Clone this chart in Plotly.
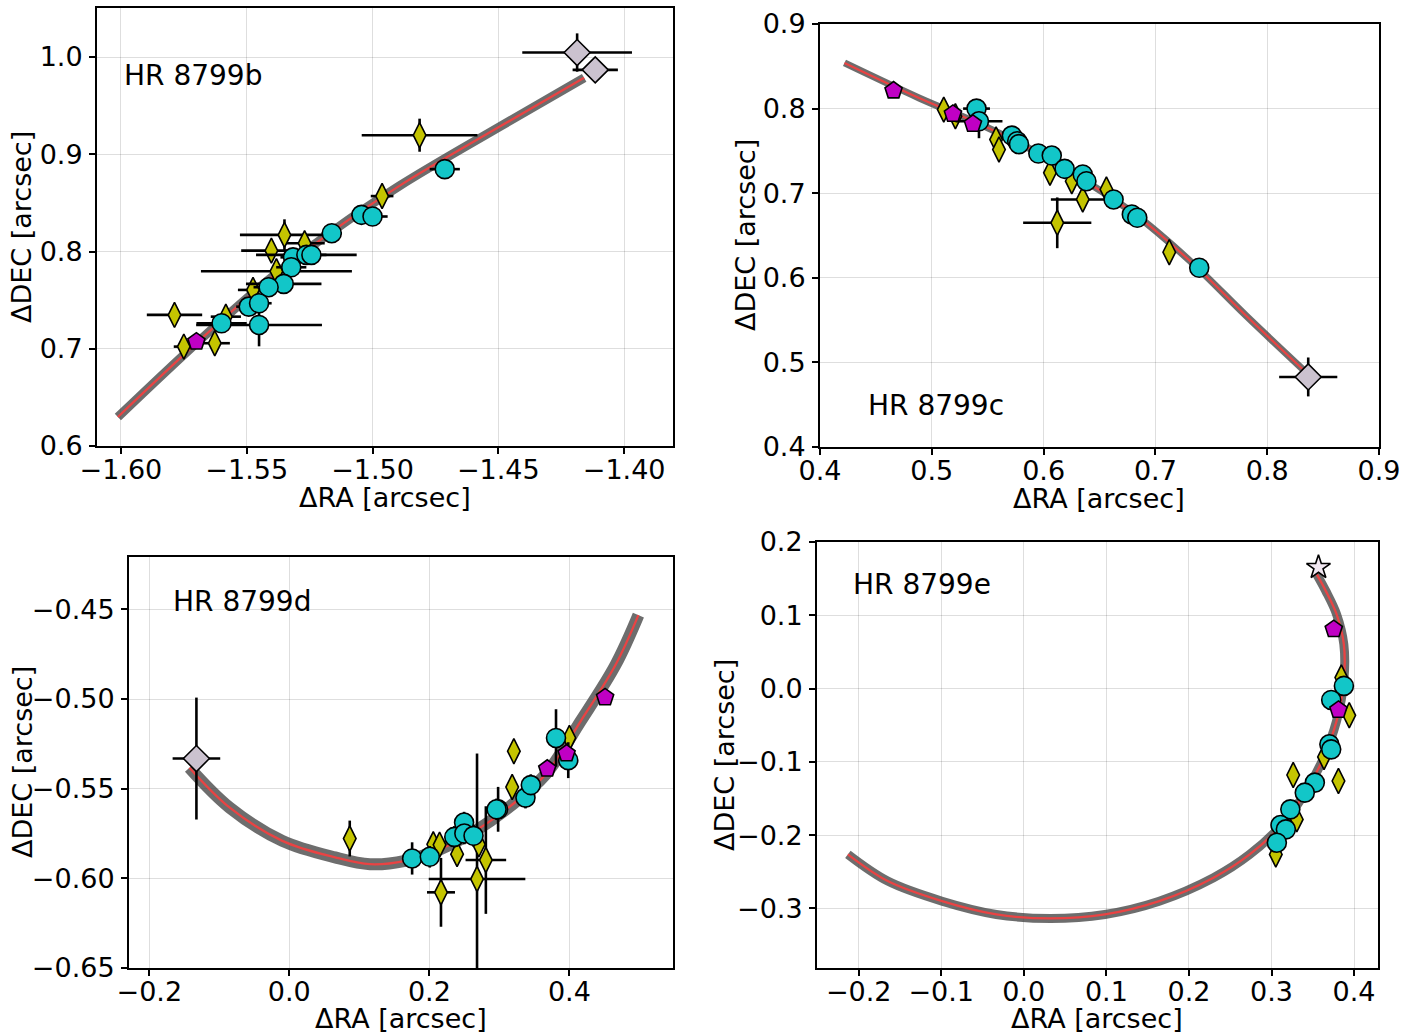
import plotly.graph_objects as go

# ---------------- data ----------------
# HR 8799b
b_track_x = [-1.6012, -1.5690, -1.5409, -1.5163, -1.4893, -1.4496, -1.4159]
b_track_y = [0.6298, 0.7080, 0.7718, 0.8202, 0.8675, 0.9282, 0.9786]
b_yel_x = [-1.4813, -1.4962, -1.5350, -1.5402, -1.5270, -1.5382, -1.5475, -1.5787, -1.5750, -1.5627, -1.5583]
b_yel_y = [0.9196, 0.8570, 0.8171, 0.8009, 0.8085, 0.7797, 0.7605, 0.7348, 0.7022, 0.7057, 0.7330]
b_yel_ex = [0.023, 0.0045, 0.0177, 0.012, 0.008, 0.030, 0.006, 0.011, 0.004, 0.006, 0.006]
b_yel_ey = [0.017, 0.010, 0.016, 0.010, 0.008, 0.008, 0.008, 0.006, 0.006, 0.006, 0.006]
b_cyn_x = [-1.4713, -1.5044, -1.5000, -1.5162, -1.5316, -1.5263, -1.5243, -1.5323, -1.5353, -1.5413, -1.5492, -1.5451, -1.5451, -1.5600]
b_cyn_y = [0.8847, 0.8377, 0.8360, 0.8188, 0.7940, 0.7965, 0.7965, 0.7838, 0.7667, 0.7633, 0.7433, 0.7468, 0.7245, 0.7262]
b_cyn_ex = [0.006, 0.004, 0.006, 0.004, 0.005, 0.020, 0.006, 0.006, 0.015, 0.006, 0.005, 0.005, 0.025, 0.010]
b_cyn_ey = [0.007, 0.006, 0.006, 0.008, 0.006, 0.006, 0.006, 0.006, 0.008, 0.010, 0.006, 0.006, 0.022, 0.006]
b_mag_x = [-1.5700]
b_mag_y = [0.7073]
b_gry_x = [-1.4187, -1.4115]
b_gry_y = [1.0046, 0.9868]
b_gry_ex = [0.0218, 0.009]
b_gry_ey = [0.0197, 0.005]

# HR 8799c
c_track_x = [0.4219, 0.4886, 0.5374, 0.5863, 0.6351, 0.6839, 0.7327, 0.7814, 0.8318]
c_track_y = [0.854, 0.8126, 0.785, 0.7536, 0.7162, 0.6729, 0.6178, 0.5548, 0.4919]
c_yel_x = [0.5107, 0.5211, 0.5575, 0.5601, 0.6057, 0.6252, 0.6350, 0.6562, 0.6122, 0.7124]
c_yel_y = [0.7988, 0.7909, 0.7634, 0.7516, 0.7241, 0.7142, 0.6926, 0.7044, 0.6650, 0.6303]
c_yel_ex = [0.004, 0.004, 0.004, 0.004, 0.004, 0.004, 0.0285, 0.004, 0.0305, 0.004]
c_yel_ey = [0.006, 0.006, 0.006, 0.006, 0.006, 0.006, 0.012, 0.006, 0.030, 0.006]
c_cyn_x = [0.5400, 0.5422, 0.5716, 0.5764, 0.5780, 0.5953, 0.6073, 0.6188, 0.6350, 0.6383, 0.6626, 0.6789, 0.6838, 0.7392]
c_cyn_y = [0.8000, 0.7850, 0.7681, 0.7614, 0.7580, 0.7469, 0.7445, 0.7288, 0.7221, 0.7142, 0.6926, 0.6749, 0.6710, 0.6119]
c_cyn_ex = [0.012, 0.021, 0.004, 0.004, 0.004, 0.003, 0.003, 0.004, 0.004, 0.004, 0.006, 0.003, 0.003, 0.003]
c_cyn_ey = [0.006, 0.020, 0.006, 0.006, 0.006, 0.005, 0.005, 0.005, 0.006, 0.006, 0.006, 0.005, 0.005, 0.006]
c_mag_x = [0.4658, 0.5189, 0.5368]
c_mag_y = [0.8213, 0.7937, 0.7819]
c_gry_x = [0.8367]
c_gry_y = [0.4828]
c_gry_ex = [0.026]
c_gry_ey = [0.023]

# HR 8799d
d_track_x = [-0.1427, -0.0851, -0.0100, 0.0653, 0.1153, 0.1654, 0.2156, 0.2656, 0.3157, 0.3659, 0.4160, 0.4660, 0.4986]
d_track_y = [-0.5383, -0.5606, -0.5791, -0.5883, -0.5921, -0.5902, -0.5837, -0.5735, -0.5597, -0.5421, -0.5124, -0.4809, -0.4532]
d_yel_x = [0.0863, 0.2056, 0.2146, 0.2166, 0.2396, 0.2681, 0.2807, 0.2707, 0.3183, 0.3207, 0.4000]
d_yel_y = [-0.5778, -0.5810, -0.5813, -0.6078, -0.5865, -0.6004, -0.5898, -0.5810, -0.5491, -0.5291, -0.5217]
d_yel_ex = [0.004, 0.004, 0.004, 0.020, 0.004, 0.069, 0.029, 0.004, 0.004, 0.004, 0.004]
d_yel_ey = [0.010, 0.006, 0.006, 0.0192, 0.006, 0.070, 0.030, 0.006, 0.006, 0.006, 0.006]
d_cyn_x = [0.1754, 0.2006, 0.2356, 0.2496, 0.2500, 0.2631, 0.2982, 0.2960, 0.3373, 0.3449, 0.3809, 0.3984]
d_cyn_y = [-0.5889, -0.5880, -0.5769, -0.5689, -0.5750, -0.5763, -0.5615, -0.5615, -0.5550, -0.5480, -0.5217, -0.5341]
d_cyn_ex = [0.004, 0.004, 0.004, 0.004, 0.004, 0.004, 0.004, 0.004, 0.004, 0.004, 0.004, 0.004]
d_cyn_ey = [0.009, 0.006, 0.006, 0.006, 0.006, 0.006, 0.0125, 0.006, 0.006, 0.006, 0.016, 0.010]
d_mag_x = [0.3684, 0.3960, 0.4510]
d_mag_y = [-0.5389, -0.5304, -0.4991]
d_gry_x = [-0.1327]
d_gry_y = [-0.5332]
d_gry_ex = [0.034]
d_gry_ey = [0.034]

# HR 8799e
e_track_x = [-0.2131, -0.1649, -0.0990, -0.0333, 0.0324, 0.0982, 0.1640, 0.2298, 0.2736, 0.3131, 0.3395, 0.3613, 0.3788, 0.3876, 0.3876, 0.3788, 0.3657, 0.3547]
e_track_y = [-0.2264, -0.2628, -0.2902, -0.3083, -0.3138, -0.3083, -0.2902, -0.2582, -0.2264, -0.1854, -0.1444, -0.0989, -0.0443, 0.0104, 0.0605, 0.1015, 0.1333, 0.1561]
e_yel_x = [0.3846, 0.3942, 0.3636, 0.3263, 0.3811, 0.3306, 0.3052]
e_yel_y = [0.0150, -0.0365, -0.0934, -0.1180, -0.1262, -0.1786, -0.2264]
e_cyn_x = [0.3877, 0.3723, 0.3701, 0.3723, 0.3525, 0.3403, 0.3228, 0.3109, 0.3174, 0.3065]
e_cyn_y = [0.0036, -0.0156, -0.0761, -0.0830, -0.1284, -0.1421, -0.1649, -0.1863, -0.1922, -0.2104]
e_mag_x = [0.3754, 0.3811]
e_mag_y = [0.0810, -0.0292]
e_star_x = [0.3569]
e_star_y = [0.1653]

# ---------------- styling ----------------
W, H = 1425, 1034
YEL = "#c4c400"
CYN = "#12c6c8"
MAG = "#c000c4"
GRY = "#cbc2cf"
STAR = "#f2e8f2"
FONT = "DejaVu Sans"
TICK_FS = 27
TITLE_FS = 27

fig = go.Figure()


def err(arr):
    if arr is None:
        return None
    return dict(type="data", array=arr, color="black", thickness=2.6, width=0)


def add_track(xa, ya, tx, ty, bandw):
    fig.add_trace(go.Scatter(x=tx, y=ty, mode="lines", line=dict(color="rgba(60,60,60,0.75)", width=bandw, shape="spline"),
                             xaxis=xa, yaxis=ya, hoverinfo="skip", showlegend=False))
    fig.add_trace(go.Scatter(x=tx, y=ty, mode="lines", line=dict(color="rgba(255,60,60,0.85)", width=2.3, shape="spline"),
                             xaxis=xa, yaxis=ya, hoverinfo="skip", showlegend=False))


def add_pts(xa, ya, x, y, symbol, color, size, ex=None, ey=None):
    fig.add_trace(go.Scatter(x=x, y=y, mode="markers", xaxis=xa, yaxis=ya, showlegend=False,
                             marker=dict(symbol=symbol, color=color, size=size, line=dict(color="black", width=1.6)),
                             error_x=err(ex), error_y=err(ey)))


# panel b
add_track("x", "y", b_track_x, b_track_y, 9)
add_pts("x", "y", b_yel_x, b_yel_y, "diamond-tall", YEL, 18, b_yel_ex, b_yel_ey)
add_pts("x", "y", b_cyn_x, b_cyn_y, "circle", CYN, 19, b_cyn_ex, b_cyn_ey)
add_pts("x", "y", b_mag_x, b_mag_y, "pentagon", MAG, 18)
add_pts("x", "y", b_gry_x, b_gry_y, "diamond", GRY, 20, b_gry_ex, b_gry_ey)

# panel c
add_track("x2", "y2", c_track_x, c_track_y, 7)
add_pts("x2", "y2", c_yel_x, c_yel_y, "diamond-tall", YEL, 18, c_yel_ex, c_yel_ey)
add_pts("x2", "y2", c_cyn_x, c_cyn_y, "circle", CYN, 19, c_cyn_ex, c_cyn_ey)
add_pts("x2", "y2", c_mag_x, c_mag_y, "pentagon", MAG, 18)
add_pts("x2", "y2", c_gry_x, c_gry_y, "diamond", GRY, 20, c_gry_ex, c_gry_ey)

# panel d
add_track("x3", "y3", d_track_x, d_track_y, 12)
add_pts("x3", "y3", d_yel_x, d_yel_y, "diamond-tall", YEL, 18, d_yel_ex, d_yel_ey)
add_pts("x3", "y3", d_cyn_x, d_cyn_y, "circle", CYN, 19, d_cyn_ex, d_cyn_ey)
add_pts("x3", "y3", d_mag_x, d_mag_y, "pentagon", MAG, 18)
add_pts("x3", "y3", d_gry_x, d_gry_y, "diamond", GRY, 20, d_gry_ex, d_gry_ey)

# panel e
add_track("x4", "y4", e_track_x, e_track_y, 9)
add_pts("x4", "y4", e_yel_x, e_yel_y, "diamond-tall", YEL, 18)
add_pts("x4", "y4", e_cyn_x, e_cyn_y, "circle", CYN, 19)
add_pts("x4", "y4", e_mag_x, e_mag_y, "pentagon", MAG, 18)
add_pts("x4", "y4", e_star_x, e_star_y, "star", STAR, 18)


def px_dom(a, b):
    return [a / W, b / W]


def py_dom(top, bot):
    return [1 - bot / H, 1 - top / H]


axis_common = dict(showline=True, mirror=True, linecolor="black", linewidth=2, ticks="outside", ticklen=6,
                   tickwidth=1.5, tickcolor="black", showgrid=True, gridcolor="rgba(0,0,0,0.13)", gridwidth=1,
                   zeroline=False, automargin=False, tickfont=dict(family=FONT, size=TICK_FS, color="black"))
xcommon = dict(axis_common, ticklabelstandoff=-7)
ycommon = dict(axis_common, ticklabelstandoff=1)

fig.update_layout(
    width=W, height=H, margin=dict(l=0, r=0, t=0, b=0, autoexpand=False),
    paper_bgcolor="white", plot_bgcolor="white", showlegend=False,
    xaxis=dict(domain=px_dom(97, 673), range=[-1.6095, -1.3806], tickvals=[-1.60, -1.55, -1.50, -1.45, -1.40],
               tickformat=".2f", anchor="y", **xcommon),
    yaxis=dict(domain=py_dom(8, 446), range=[0.6, 1.0504], tickvals=[0.6, 0.7, 0.8, 0.9, 1.0],
               tickformat=".1f", anchor="x", **ycommon),
    xaxis2=dict(domain=px_dom(820, 1379), range=[0.4, 0.9], tickvals=[0.4, 0.5, 0.6, 0.7, 0.8, 0.9],
                tickformat=".1f", anchor="y2", **xcommon),
    yaxis2=dict(domain=py_dom(24, 447), range=[0.4, 0.9], tickvals=[0.4, 0.5, 0.6, 0.7, 0.8, 0.9],
                tickformat=".1f", anchor="x2", **ycommon),
    xaxis3=dict(domain=px_dom(129, 673), range=[-0.229, 0.548], tickvals=[-0.2, 0.0, 0.2, 0.4],
                tickformat=".1f", anchor="y3", **xcommon),
    yaxis3=dict(domain=py_dom(557, 968), range=[-0.65, -0.4208], tickvals=[-0.65, -0.60, -0.55, -0.50, -0.45],
                tickformat=".2f", anchor="x3", **ycommon),
    xaxis4=dict(domain=px_dom(817, 1378), range=[-0.2505, 0.429], tickvals=[-0.2, -0.1, 0.0, 0.1, 0.2, 0.3, 0.4],
                tickformat=".1f", anchor="y4", **xcommon),
    yaxis4=dict(domain=py_dom(542, 968), range=[-0.3814, 0.2], tickvals=[-0.3, -0.2, -0.1, 0.0, 0.1, 0.2],
                tickformat=".1f", anchor="x4", **ycommon),
)

# panel labels
labels = [("HR 8799b", 122, 75), ("HR 8799c", 866, 405), ("HR 8799d", 171, 601), ("HR 8799e", 851, 584)]
for txt, lx, ly in labels:
    fig.add_annotation(text=txt, x=lx / W, y=1 - ly / H, xref="paper", yref="paper", xanchor="left", yanchor="middle",
                       showarrow=False, font=dict(family=FONT, size=28, color="black"))

# axis titles (placed as paper annotations)
xtitles = [(385, 497), (1099, 498), (401, 1018), (1097, 1018)]
ytitles = [(22, 227), (745, 235), (22, 762), (724, 755)]
for cx, cy in xtitles:
    fig.add_annotation(text="ΔRA [arcsec]", x=cx / W, y=1 - cy / H, xref="paper", yref="paper", xanchor="center",
                       yanchor="middle", showarrow=False, font=dict(family=FONT, size=TITLE_FS, color="black"))
for cx, cy in ytitles:
    fig.add_annotation(text="ΔDEC [arcsec]", x=cx / W, y=1 - cy / H, xref="paper", yref="paper", xanchor="center",
                       yanchor="middle", textangle=-90, showarrow=False,
                       font=dict(family=FONT, size=TITLE_FS, color="black"))

fig.write_html("out.html")
